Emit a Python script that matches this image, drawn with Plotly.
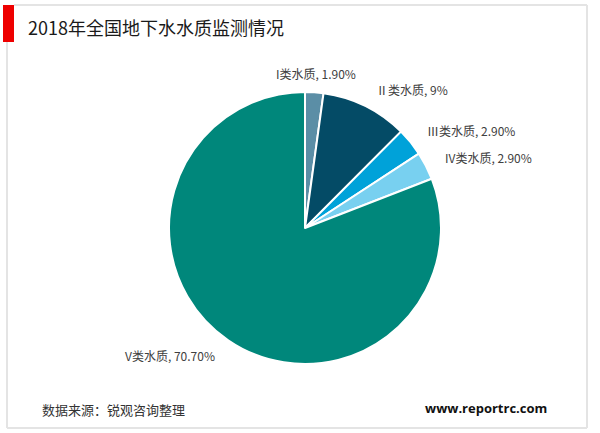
import math
import plotly.graph_objects as go

# Groundwater quality classes and their shares (%)
categories = ["I类水质", "Ⅱ类水质", "Ⅲ类水质", "IV类水质", "V类水质"]
shares = [1.90, 9, 2.90, 2.90, 70.70]
share_text = ["1.90%", "9%", "2.90%", "2.90%", "70.70%"]
colors = ["#5b8ea6", "#044b66", "#00a2d9", "#78d0f0", "#00877b"]

W, H = 600, 433
CX, CY, R = 305, 228, 136  # pie centre and radius in pixels
LABEL_R = 155

FONT = "Noto Sans CJK SC, Noto Sans, sans-serif"

fig = go.Figure(go.Pie(
    labels=categories,
    values=shares,
    sort=False,
    direction="clockwise",
    rotation=0,
    marker=dict(colors=colors, line=dict(color="white", width=2)),
    textinfo="none",
    hoverinfo="label+value",
    showlegend=False,
    domain=dict(x=[(CX - R) / W, (CX + R) / W], y=[1 - (CY + R) / H, 1 - (CY - R) / H]),
))

# Data labels placed around the pie at each slice's mid angle
annotations = []
total = sum(shares)
acc = 0.0
for name, v, t in zip(categories, shares, share_text):
    mid = (acc + v / 2) / total * 2 * math.pi
    acc += v
    s, c = math.sin(mid), math.cos(mid)
    px = CX + LABEL_R * s
    py = CY - LABEL_R * c
    xa = "left" if s > 0.3 else ("right" if s < -0.3 else "center")
    annotations.append(dict(
        x=px / W, y=1 - py / H, xref="paper", yref="paper",
        text=f"{name}, {t}", showarrow=False, xanchor=xa, yanchor="middle",
        font=dict(family=FONT, size=12, color="#404040"),
    ))

annotations += [
    dict(x=26 / W, y=1 - 27 / H, xref="paper", yref="paper", text="2018年全国地下水水质监测情况",
         showarrow=False, xanchor="left", yanchor="middle",
         font=dict(family=FONT, size=18, color="#1a1a1a")),
    dict(x=40 / W, y=1 - 409 / H, xref="paper", yref="paper", text="数据来源：锐观咨询整理",
         showarrow=False, xanchor="left", yanchor="middle",
         font=dict(family=FONT, size=13, color="#333333")),
    dict(x=549 / W, y=1 - 408 / H, xref="paper", yref="paper", text="<b>www.reportrc.com</b>",
         showarrow=False, xanchor="right", yanchor="middle",
         font=dict(family="Open Sans, sans-serif", size=13, color="#111111")),
]

frame = "#e4e4e4"
shapes = [
    dict(type="line", xref="paper", yref="paper", x0=14 / W, x1=587 / W, y0=1 - 5 / H, y1=1 - 5 / H,
         line=dict(color=frame, width=2)),
    dict(type="line", xref="paper", yref="paper", x0=587 / W, x1=587 / W, y0=1 - 5 / H, y1=1 - 428 / H,
         line=dict(color=frame, width=2)),
    dict(type="line", xref="paper", yref="paper", x0=7 / W, x1=587 / W, y0=1 - 428 / H, y1=1 - 428 / H,
         line=dict(color=frame, width=2)),
    dict(type="line", xref="paper", yref="paper", x0=7 / W, x1=7 / W, y0=1 - 42 / H, y1=1 - 428 / H,
         line=dict(color=frame, width=2)),
    dict(type="rect", xref="paper", yref="paper", x0=3 / W, x1=14 / W, y0=1 - 5 / H, y1=1 - 42 / H,
         fillcolor="#ee0000", line=dict(width=0)),
]

fig.update_layout(
    width=W, height=H,
    margin=dict(l=0, r=0, t=0, b=0),
    paper_bgcolor="white", plot_bgcolor="white",
    annotations=annotations, shapes=shapes,
)

fig.write_html("out.html")
